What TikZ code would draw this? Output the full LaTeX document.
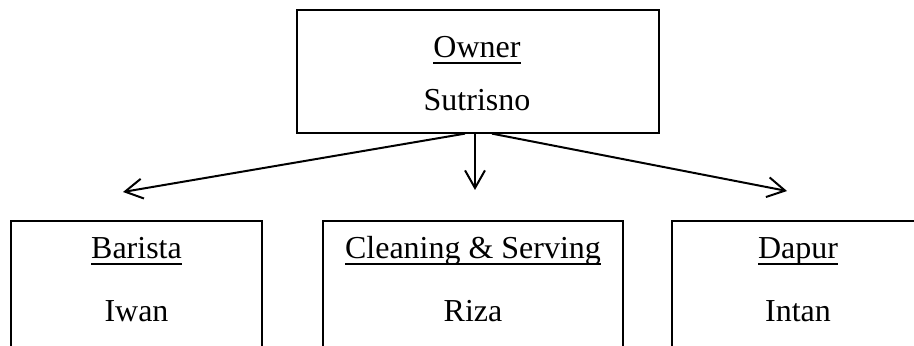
\documentclass[tikz,border=0pt]{standalone}
\usepackage{fontspec}
\setmainfont{Liberation Serif}
\usetikzlibrary{arrows.meta,calc}

\newcommand{\undl}[1]{\setbox0\hbox{#1}\rlap{\rule[-4.8pt]{\wd0}{1.7pt}}\box0}

\begin{document}
\begin{tikzpicture}[x=0.03cm,y=-0.03cm,
    box/.style={draw,line width=1.1pt,minimum width=#1*0.03cm,inner sep=0pt},
    txt/.style={anchor=base,inner sep=0pt,font=\fontsize{27.3}{33}\selectfont},
    arr/.style={line width=1.7pt,-{Straight Barb[length=15pt,width=17pt,line width=1.7pt]}}]
    \clip (0,0) rectangle (914,346);

    % Owner box
    \node[box=362,minimum height=123*0.03cm] (owner) at (478,71.5) {};
    \node[txt] (ownerT) at (477,58) {\undl{Owner}};
    \node[txt] (ownerN) at (477,111) {Sutrisno};

    % Staff boxes
    \node[box=251,minimum height=160*0.03cm] (barista) at (136.5,301) {};
    \node[box=300,minimum height=160*0.03cm] (cleaning) at (473,301) {};
    \node[box=270,minimum height=160*0.03cm] (dapur) at (807,301) {};

    \node[txt] (baristaT) at (136.5,259) {\undl{Barista}};
    \node[txt] (baristaN) at (136.5,322) {Iwan};
    \node[txt] (cleaningT) at (473,259) {\undl{Cleaning \& Serving}};
    \node[txt] (cleaningN) at (473,322) {Riza};
    \node[txt] (dapurT) at (798,259) {\undl{Dapur}};
    \node[txt] (dapurN) at (798,322) {Intan};

    % Arrow tips
    \coordinate (tipL) at (123,192);
    \coordinate (tipM) at (475,190);
    \coordinate (tipR) at (787,191);

    % Arrows from owner
    \draw[arr] ($(owner.south)+(-13,0)$) -- (tipL);
    \draw[arr] ($(owner.south)+(-3,0)$) -- (tipM);
    \draw[arr] ($(owner.south)+(14,0)$) -- (tipR);
\end{tikzpicture}
\end{document}
